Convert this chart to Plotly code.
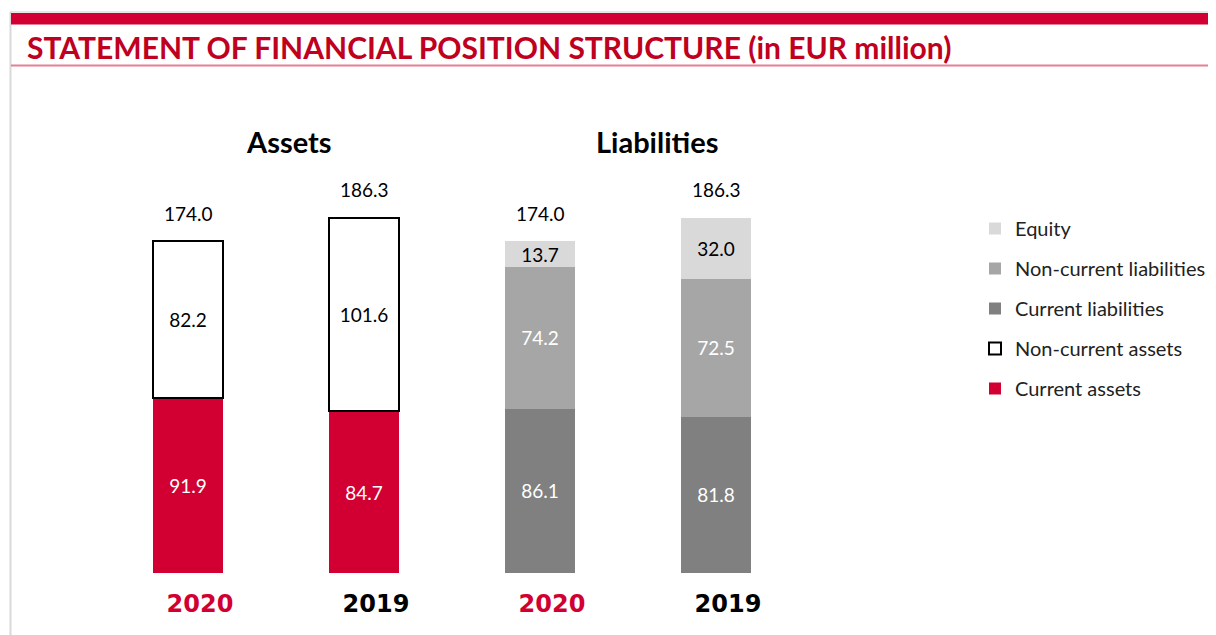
import plotly.graph_objects as go

# ---- data ----
categories = ["Assets 2020", "Assets 2019", "Liabilities 2020", "Liabilities 2019"]
year_labels = ["2020", "2019", "2020", "2019"]
current_assets = [91.9, 84.7, None, None]
non_current_assets = [82.2, 101.6, None, None]
current_liabilities = [None, None, 86.1, 81.8]
non_current_liabilities = [None, None, 74.2, 72.5]
equity = [None, None, 13.7, 32.0]
totals = [174.0, 186.3, 174.0, 186.3]
group_titles = ["Assets", "Liabilities"]
title_text = "STATEMENT OF FINANCIAL POSITION STRUCTURE (in EUR million)"

RED = "#D20032"
TITLE_RED = "#C0001F"

OFF = 8  # page body margin
W, H = 1216 - OFF, 635 - OFF
L, R_, T, B = 92, 412, 126, 62
PW, PH = W - L - R_, H - T - B


def px_x(px):
    return (px - OFF - L) / PW


def px_y(py):
    return (H - B - (py - OFF)) / PH


FONT = "Lato"

fig = go.Figure()


def fmt(v):
    return "" if v is None else f"{v:.1f}"


series = [
    ("Current assets", current_assets, RED, "white", dict(width=0), 5),
    ("Non-current assets", non_current_assets, "white", "black", dict(color="black", width=2), 4),
    ("Current liabilities", current_liabilities, "#808080", "white", dict(width=0), 3),
    ("Non-current liabilities", non_current_liabilities, "#A6A6A6", "white", dict(width=0), 2),
    ("Equity", equity, "#D9D9D9", "black", dict(width=0), 1),
]

for name, vals, col, tcol, line, rank in series:
    fig.add_trace(go.Bar(
        x=categories, y=vals, name=name,
        marker=dict(color=col, line=line),
        text=[fmt(v) for v in vals], textposition="inside",
        insidetextanchor="middle", constraintext="none",
        textfont=dict(family=FONT, size=19, color=tcol),
        legendgroup=name, legendrank=rank,
        hoverinfo="skip",
    ))

for cat, tot in zip(categories, totals):
    fig.add_annotation(
        x=cat, y=tot, text=f"{tot:.1f}", showarrow=False,
        yanchor="middle", yshift=28,
        font=dict(family=FONT, size=19, color="black"),
    )

ticktext = [
    f"<span style='color:{RED if y == '2020' else 'black'}'><b>{y}</b></span>" for y in year_labels
]

fig.update_layout(
    width=W, height=H, autosize=False,
    margin=dict(l=L, r=R_, t=T, b=B, autoexpand=False),
    barmode="stack", bargap=0.6,
    plot_bgcolor="white", paper_bgcolor="white",
    showlegend=True,
    uniformtext=dict(mode=False),
    legend=dict(
        traceorder="grouped", tracegroupgap=11,
        xref="container", yref="container",
        x=(975 - OFF) / W, y=1 - (209 - OFF) / H, xanchor="left", yanchor="top",
        font=dict(family=FONT, size=20, color="#222"),
        bgcolor="rgba(0,0,0,0)",
    ),
    title=dict(
        text=f"<b>{title_text}</b>", xref="container", yref="container",
        x=(27 - OFF) / W, xanchor="left", y=1 - (48 - OFF) / H, yanchor="middle",
        font=dict(family=FONT, size=30, color=TITLE_RED),
    ),
    xaxis=dict(
        type="category", categoryorder="array", categoryarray=categories,
        tickmode="array", tickvals=categories, ticktext=ticktext,
        ticks="", showline=False, showgrid=False, zeroline=False,
        tickfont=dict(family="DejaVu Sans", size=24),
        ticklabelshift=12, ticklabelstandoff=14,
    ),
    yaxis=dict(range=[0, PH / 1.908], visible=False, showgrid=False, zeroline=False),
)

for txt, xc in zip(group_titles, [289, 657]):
    fig.add_annotation(
        text=f"<b>{txt}</b>", xref="paper", yref="paper",
        x=px_x(xc), y=px_y(141), xanchor="center", yanchor="middle",
        showarrow=False, font=dict(family=FONT, size=29, color="black"),
    )

# decorative frame
fig.add_shape(type="line", xref="paper", yref="paper",
              x0=px_x(10.5), x1=px_x(10.5), y0=px_y(12), y1=px_y(640),
              line=dict(color="#D9D9D9", width=2))
fig.add_shape(type="line", xref="paper", yref="paper",
              x0=px_x(10), x1=px_x(1220), y0=px_y(12), y1=px_y(12),
              line=dict(color="#CFCFCF", width=1))
fig.add_shape(type="rect", xref="paper", yref="paper",
              x0=px_x(11), x1=px_x(1220), y0=px_y(13), y1=px_y(24.5),
              fillcolor=RED, line=dict(width=0))
fig.add_shape(type="line", xref="paper", yref="paper",
              x0=px_x(11), x1=px_x(1220), y0=px_y(65.5), y1=px_y(65.5),
              line=dict(color="#E57F96", width=2))

fig.write_html("out.html")
